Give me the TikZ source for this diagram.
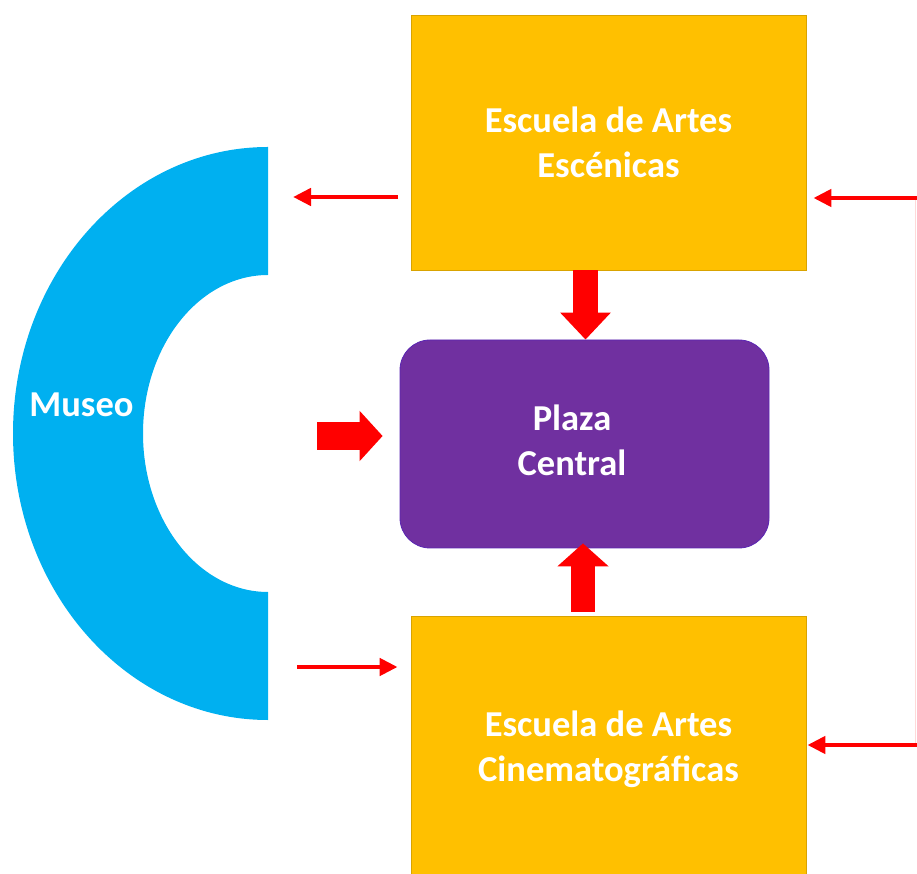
\documentclass[tikz,border=0pt]{standalone}
\usepackage{fontspec}
\setmainfont{Carlito}
\usetikzlibrary{arrows.meta,calc}
\definecolor{gold}{HTML}{FFC000}
\definecolor{sky}{HTML}{00B0F0}
\definecolor{plum}{HTML}{7030A0}
\begin{document}
\begin{tikzpicture}[x=1pt,y=1pt,
  school/.style={rectangle, fill=gold, draw=gold!85!black, line width=0.8pt,
    minimum width=395pt, inner sep=0pt, text=white,
    font=\bfseries\fontsize{36.5}{45}\selectfont, align=center},
  lbl/.style={text=white, font=\bfseries\fontsize{36.5}{45}\selectfont, align=center, inner sep=0pt},
  thinarrow/.style={draw=red, line width=4.5pt, -{Triangle[length=18pt,width=17pt]}},
  blockarrow/.style={draw=red, line width=25pt, -{Triangle[length=26pt,width=50pt]}}]
\useasboundingbox (0,0) rectangle (917,873);
\begin{scope}
\clip (0,0) rectangle (917,873);
% Museo shape
\fill[sky] (268,726) arc[start angle=90,end angle=270,x radius=255,y radius=286.5]
  -- (268,281) arc[start angle=270,end angle=90,x radius=125,y radius=158.5] -- cycle;
\node[lbl] (museo) at (81.5,468) {Museo};
% boxes
\node[school, minimum height=255pt] (top) at (608.5,730.5) {Escuela de Artes\\Escénicas};
\node[school, minimum height=267pt] (cine) at (608.5,123.5) {Escuela de Artes\\Cinematográficas};
\node[rectangle, rounded corners=30pt, fill=plum, draw=plum!80!blue, line width=0.8pt,
  minimum width=369pt, minimum height=208pt] (plaza) at (584.5,429) {};
\node[lbl] (plazatext) at (572,432.5) {Plaza\\Central};
% coordinates
\coordinate (tl) at (398,676);
\coordinate (tlend) at (293,676);
\coordinate (bl) at (297,206);
\coordinate (r1) at (917,675);
\coordinate (r2) at (917,128);
\coordinate (dn) at (585.5,0);
\coordinate (upx) at (583,0);
\coordinate (rt) at (317,437);
% thin arrows
\draw[red!15, line width=1pt] (915.5,675) -- (915.5,128);
\draw[thinarrow] (tl) -- (tlend);
\draw[thinarrow] (bl) -- ([xshift=-13pt]cine.west |- bl);
\draw[thinarrow] (r1) -- ([xshift=7pt]top.east |- r1);
\draw[thinarrow] (r2) -- ([xshift=1pt]cine.east |- r2);
% block arrows
\draw[blockarrow, line width=25pt, -{Triangle[length=27pt,width=49pt]}] (top.south -| dn) -- (plaza.north -| dn);
\draw[blockarrow, line width=24pt, -{Triangle[length=23pt,width=50pt]}] ([yshift=4pt]cine.north -| upx) -- ([yshift=5pt]plaza.south -| upx);
\draw[blockarrow, line width=28pt, -{Triangle[length=23pt,width=49pt]}] (rt) -- ([xshift=-17pt]plaza.west |- rt);
\end{scope}
\end{tikzpicture}
\end{document}
